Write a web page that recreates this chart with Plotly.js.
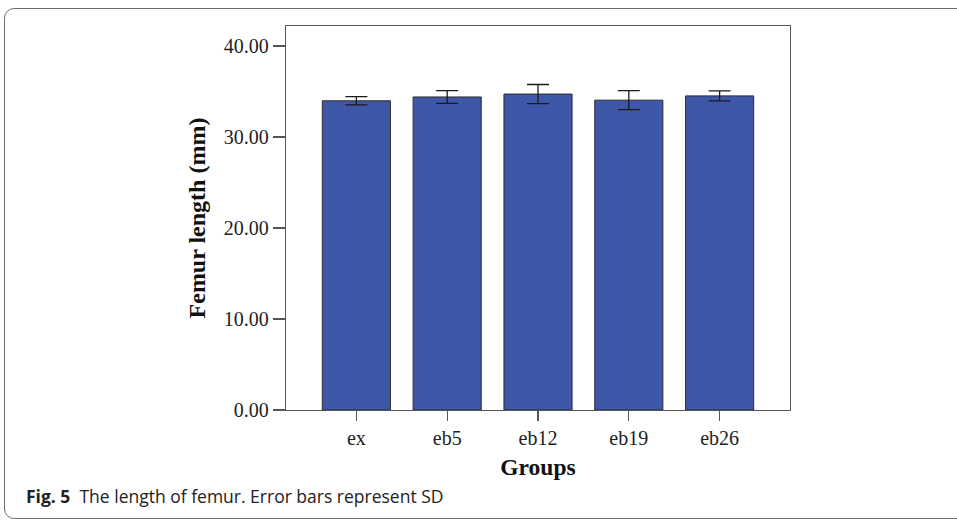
<!DOCTYPE html>
<html>
<head>
<meta charset="utf-8">
<script src="https://cdn.plot.ly/plotly-3.0.1.min.js"></script>
<style>
  html, body { margin: 0; padding: 0; background: #fff; }
  #wrap { position: relative; width: 957px; height: 521px; overflow: hidden; }
  #frame { position: absolute; left: 4px; top: 8px; width: 1000px; height: 511px;
           border: 1.5px solid #6e6e6e; border-radius: 10px; box-sizing: border-box; }
  #chart { position: absolute; left: 0; top: 0; width: 957px; height: 521px; }
</style>
</head>
<body>
<div id="wrap">
  <div id="frame"></div>
  <div id="chart"></div>
</div>
<script>
const groups = ["ex", "eb5", "eb12", "eb19", "eb26"];
const meanLength = [33.98, 34.4, 34.72, 34.05, 34.52];
const sdLength = [0.45, 0.7, 1.05, 1.05, 0.55];
const yTickVals = [0, 10, 20, 30, 40];
const yTickText = ["0.00", "10.00", "20.00", "30.00", "40.00"];

const trace = {
  type: "bar",
  x: groups,
  y: meanLength,
  width: 0.75,
  marker: { color: "#3f57a8", line: { color: "#2b2b2b", width: 1 } },
  error_y: { type: "data", array: sdLength, visible: true, color: "#1a1a1a", thickness: 1.3, width: 11 },
  hoverinfo: "none"
};

const serif = "Liberation Serif, Times New Roman, serif";
const layout = {
  width: 957, height: 521,
  margin: { l: 286, r: 167, t: 26, b: 111 },
  paper_bgcolor: "rgba(0,0,0,0)",
  plot_bgcolor: "#ffffff",
  showlegend: false,
  xaxis: {
    range: [-0.775, 4.775],
    showline: true, mirror: true, linecolor: "#555", linewidth: 1.3,
    ticks: "outside", ticklen: 10, tickcolor: "#555", tickwidth: 1.3,
    tickfont: { family: serif, size: 20, color: "#222" },
    title: { text: "<b>Groups</b>", font: { family: serif, size: 23.5, color: "#111" }, standoff: 10 },
    showgrid: false, zeroline: false
  },
  yaxis: {
    range: [0, 42.2],
    tickvals: yTickVals, ticktext: yTickText,
    showline: true, mirror: true, linecolor: "#555", linewidth: 1.3,
    ticks: "outside", ticklen: 12, tickcolor: "#555", tickwidth: 1.3,
    tickfont: { family: serif, size: 20, color: "#222" },
    title: { text: "<b>Femur length (mm)</b>", font: { family: serif, size: 24, color: "#111" }, standoff: 11 },
    showgrid: false, zeroline: false
  },
  annotations: [{
    xref: "paper", yref: "paper",
    x: (24 - 286) / 504, y: (410 - 496) / 384,
    xanchor: "left", yanchor: "middle",
    text: "<b>Fig. 5</b>  The length of femur. Error bars represent SD",
    showarrow: false,
    font: { family: "Open Sans, Noto Sans, sans-serif", size: 17.5, color: "#222" }
  }]
};

Plotly.newPlot("chart", [trace], layout, { staticPlot: true, displayModeBar: false });
</script>
</body>
</html>
